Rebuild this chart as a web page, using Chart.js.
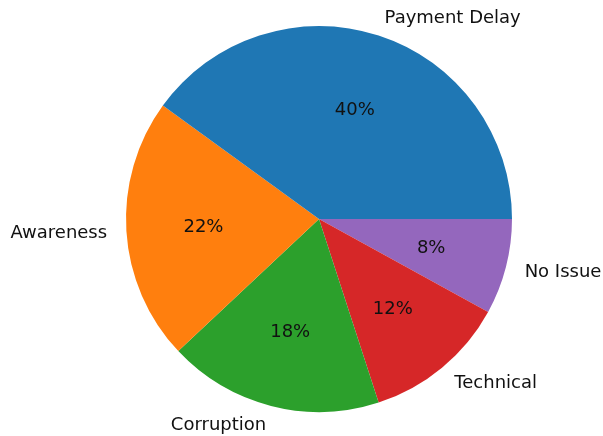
<!DOCTYPE html>
<html>
<head>
<meta charset="utf-8">
<script src="https://cdn.jsdelivr.net/npm/chart.js@4/dist/chart.umd.min.js"></script>
<style>
  html, body { margin: 0; padding: 0; background: #fff; }
  #wrap { width: 603px; height: 436px; position: relative; }
</style>
</head>
<body>
<div id="wrap"><canvas id="pie"></canvas></div>
<script>
// matplotlib order: counter-clockwise from 3 o'clock
const categories = ['Payment Delay', 'Awareness', 'Corruption', 'Technical', 'No Issue'];
const shares = [40, 22, 18, 12, 8];
const colors = ['#1f77b4', '#ff7f0e', '#2ca02c', '#d62728', '#9467bd'];

// Chart.js draws clockwise, so feed it reversed and start at 3 o'clock
const labels = categories.slice().reverse();
const values = shares.slice().reverse();
const fills = colors.slice().reverse();

const FONT = '18px "DejaVu Sans", sans-serif';

const pieText = {
  id: 'pieText',
  afterDatasetsDraw(chart) {
    const { ctx } = chart;
    const meta = chart.getDatasetMeta(0);
    ctx.save();
    ctx.font = FONT;
    ctx.fillStyle = '#111';
    ctx.textBaseline = 'middle';
    meta.data.forEach((arc, i) => {
      const mid = (arc.startAngle + arc.endAngle) / 2;
      const r = arc.outerRadius;
      const cx = Math.cos(mid), cy = Math.sin(mid);
      // category label at 1.1 r
      ctx.textAlign = cx >= 0 ? 'left' : 'right';
      ctx.fillText(labels[i], arc.x + cx * r * 1.1, arc.y + cy * r * 1.1 + 1);
      // percentage at 0.6 r
      ctx.textAlign = 'center';
      ctx.fillText(values[i] + '%', arc.x + cx * r * 0.6, arc.y + cy * r * 0.6 + 1);
    });
    ctx.restore();
  }
};

new Chart(document.getElementById('pie'), {
  type: 'pie',
  data: {
    labels,
    datasets: [{
      data: values,
      backgroundColor: fills,
      borderWidth: 0
    }]
  },
  options: {
    responsive: true,
    maintainAspectRatio: false,
    animation: false,
    rotation: 90,
    layout: { padding: { left: 126, right: 91, top: 26, bottom: 24 } },
    plugins: {
      legend: { display: false },
      tooltip: { enabled: false }
    }
  },
  plugins: [pieText]
});
</script>
</body>
</html>
